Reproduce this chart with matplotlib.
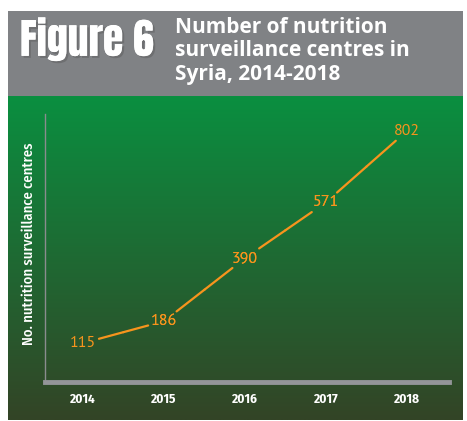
import numpy as np
import matplotlib
matplotlib.use("Agg")
import matplotlib.pyplot as plt
from matplotlib.patches import Rectangle
import matplotlib.patheffects as pe

years = [2014, 2015, 2016, 2017, 2018]
centres = [115, 186, 390, 571, 802]
labels = [str(v) for v in centres]

orange = "#f7941d"
W, H = 467, 421
cond = ["Fira Sans Condensed", "DejaVu Sans"]
body = ["PT Sans", "Open Sans", "DejaVu Sans"]

fig = plt.figure(figsize=(W / 100, H / 100), dpi=100)
fig.patch.set_facecolor("white")

# header band
fig.add_artist(Rectangle((8 / W, 1 - 97 / H), 455 / W, 86 / H,
                         transform=fig.transFigure, facecolor="#808285",
                         edgecolor="none", zorder=0))

# green gradient panel
bg = fig.add_axes([8 / W, 1 / H, 455 / W, 96 / H + (1 - 97 / H) - 96 / H])
grad = np.linspace(0, 1, 256).reshape(-1, 1)
top = np.array([10, 143, 64]) / 255
bottom = np.array([51, 68, 38]) / 255
img = top * (1 - grad[..., None]) + bottom * grad[..., None]
bg.imshow(img, aspect="auto", extent=[0, 1, 0, 1])
bg.axis("off")
bg.set_zorder(0)

fig.text(20 / W, 1 - 39 / H, "Figure 6", color="white", fontsize=30,
         family=["Anton", "DejaVu Sans"], va="center", ha="left",
         path_effects=[pe.withSimplePatchShadow(offset=(1.5, -1.5), alpha=0.35),
                       pe.Normal()])
fig.text(175 / W, 1 - 17 / H, "Number of nutrition\nsurveillance centres in\nSyria, 2014-2018",
         color="white", fontsize=15, fontweight="bold", family=["Open Sans", "DejaVu Sans"],
         va="top", ha="left", linespacing=1.15)

ax = fig.add_axes([45 / W, 1 - 382 / H, 404 / W, 268 / H])
ax.set_zorder(2)
ax.patch.set_alpha(0)
ax.set_xlim(2013.53, 2018.52)
ax.set_ylim(-11, 857)

# line runs from each value label to the segment midpoints, clipped at the label box
mids = [((years[i] + years[i + 1]) / 2, (centres[i] + centres[i + 1]) / 2)
        for i in range(len(years) - 1)]
for i, (x, y) in enumerate(zip(years, centres)):
    targets = []
    if i > 0:
        targets.append(mids[i - 1])
    if i < len(mids):
        targets.append(mids[i])
    for t in targets:
        ax.annotate(labels[i], xy=t, xytext=(x, y), color=orange, fontsize=11.5,
                    family=body, ha="center", va="center",
                    arrowprops=dict(arrowstyle="-", color=orange, lw=1.6,
                                    shrinkA=0, shrinkB=0))

for s in ["top", "right"]:
    ax.spines[s].set_visible(False)
ax.spines["left"].set_color("#8a8c8e")
ax.spines["left"].set_linewidth(1)
ax.spines["bottom"].set_color("#939598")
ax.spines["bottom"].set_linewidth(3.5)
ax.set_yticks([])
ax.set_xticks(years)
ax.set_xticklabels([str(y) for y in years], color="white", fontsize=9.5,
                   fontweight="bold", family=cond)
ax.tick_params(axis="x", length=0, pad=8)
ax.set_ylabel("No. nutrition surveillance centres", color="white", fontsize=10.5,
              family=cond, fontweight="medium")
ax.yaxis.set_label_coords(-0.022, 0.515)

fig.savefig("out.png", dpi=100)
